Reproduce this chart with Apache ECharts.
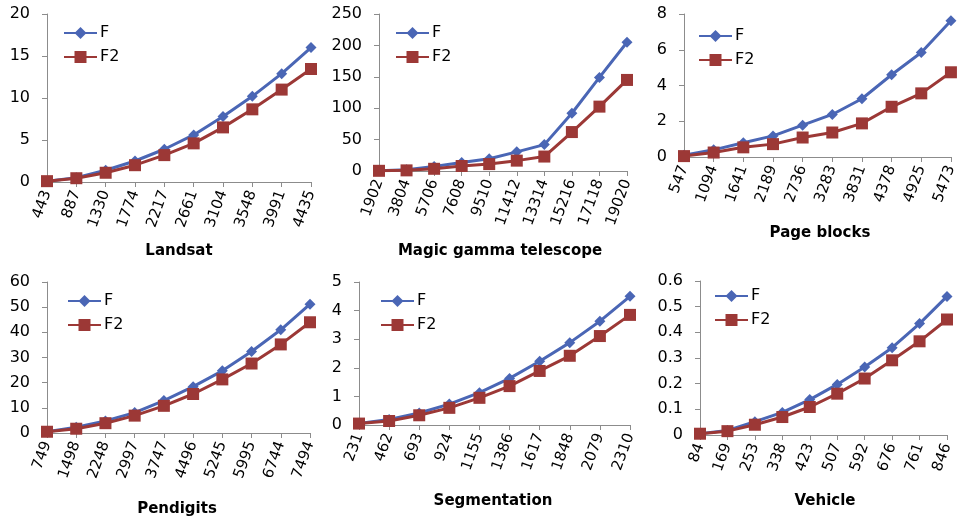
<!DOCTYPE html>
<html>
<head>
<meta charset="utf-8">
<script src="https://cdn.jsdelivr.net/npm/echarts@6/dist/echarts.min.js"></script>
<style>
  html, body { margin: 0; padding: 0; background: #fff; }
  #chart { width: 959px; height: 519px; }
</style>
</head>
<body>
<div id="chart"></div>
<script>
// Dataset sizes (x categories) and timings for the two methods, per dataset
const landsatX = ['443','887','1330','1774','2217','2661','3104','3548','3991','4435'];
const landsatF = [0.1, 0.5, 1.4, 2.5, 3.9, 5.6, 7.8, 10.2, 12.9, 16.0];
const landsatF2 = [0.1, 0.45, 1.1, 2.0, 3.2, 4.6, 6.5, 8.65, 11.0, 13.45];

const magicX = ['1902','3804','5706','7608','9510','11412','13314','15216','17118','19020'];
const magicF = [0.5, 2, 7, 13.5, 19.5, 30.5, 42, 92, 149, 205];
const magicF2 = [0.3, 1, 3.5, 8, 11, 16.5, 23, 62, 102.5, 145];

const pageX = ['547','1094','1641','2189','2736','3283','3831','4378','4925','5473'];
const pageF = [0.1, 0.4, 0.8, 1.18, 1.78, 2.38, 3.26, 4.6, 5.85, 7.62];
const pageF2 = [0.05, 0.25, 0.54, 0.72, 1.09, 1.37, 1.88, 2.81, 3.56, 4.74];

const pendX = ['749','1498','2248','2997','3747','4496','5245','5995','6744','7494'];
const pendF = [0.5, 2.3, 4.8, 8.1, 12.9, 18.4, 24.7, 32.4, 41, 51.2];
const pendF2 = [0.5, 1.7, 3.9, 6.9, 10.8, 15.5, 21.3, 27.6, 35.2, 44];

const segX = ['231','462','693','924','1155','1386','1617','1848','2079','2310'];
const segF = [0.05, 0.19, 0.42, 0.73, 1.13, 1.63, 2.23, 2.88, 3.63, 4.5];
const segF2 = [0.05, 0.14, 0.34, 0.6, 0.95, 1.36, 1.89, 2.42, 3.11, 3.85];

const vehX = ['84','169','253','338','423','507','592','676','761','846'];
const vehF = [0.005, 0.018, 0.052, 0.088, 0.138, 0.197, 0.265, 0.34, 0.434, 0.54];
const vehF2 = [0.005, 0.015, 0.04, 0.07, 0.109, 0.161, 0.22, 0.291, 0.365, 0.45];

const names = ['Landsat', 'Magic gamma telescope', 'Page blocks', 'Pendigits', 'Segmentation', 'Vehicle'];
const yMax = [20, 250, 8, 60, 5, 0.6];
const yStep = [5, 50, 2, 10, 1, 0.1];

const panels = [
  { x: landsatX, f: landsatF, f2: landsatF2 },
  { x: magicX, f: magicF, f2: magicF2 },
  { x: pageX, f: pageF, f2: pageF2 },
  { x: pendX, f: pendF, f2: pendF2 },
  { x: segX, f: segF, f2: segF2 },
  { x: vehX, f: vehF, f2: vehF2 }
];

// Layout of each small chart: plot box, legend anchor, title anchor
const layout = [
  { l: 47,  t: 14,  w: 264, h: 168, lg: [63, 25],  tt: [179, 244] },
  { l: 379, t: 14,  w: 248, h: 157, lg: [395, 25], tt: [500, 244] },
  { l: 684, t: 14,  w: 271, h: 143, lg: [698, 28], tt: [820, 226] },
  { l: 47,  t: 282, w: 263, h: 151, lg: [67, 293], tt: [177, 502] },
  { l: 359, t: 282, w: 271, h: 143, lg: [380, 293], tt: [493, 494] },
  { l: 700, t: 281, w: 247, h: 154, lg: [714, 288], tt: [825, 494] }
];

const FONT = '"DejaVu Sans", sans-serif';
const BLUE = '#4a66b5';
const RED = '#9c3836';
const AXIS = '#8c8c8c';

const grid = [], xAxis = [], yAxis = [], series = [], legend = [], title = [];

panels.forEach((p, i) => {
  const L = layout[i];
  grid.push({ left: L.l, top: L.t, width: L.w, height: L.h, containLabel: false });
  xAxis.push({
    type: 'category', gridIndex: i, data: p.x, boundaryGap: false,
    axisLine: { lineStyle: { color: AXIS, width: 1 } },
    axisTick: { show: true, alignWithLabel: true, length: 5, lineStyle: { color: AXIS } },
    axisLabel: { rotate: 70, color: '#000', fontFamily: FONT, fontSize: 15, margin: 9, interval: 0 },
    splitLine: { show: false }
  });
  yAxis.push({
    type: 'value', gridIndex: i, min: 0, max: yMax[i], interval: yStep[i],
    axisLine: { show: true, lineStyle: { color: AXIS, width: 1 } },
    axisTick: { show: true, length: 5, lineStyle: { color: AXIS } },
    axisLabel: { color: '#000', fontFamily: FONT, fontSize: 16, margin: 17 },
    splitLine: { show: false }
  });
  series.push({
    name: 'F', type: 'line', xAxisIndex: i, yAxisIndex: i, data: p.f,
    symbol: 'diamond', symbolSize: 11, showAllSymbol: true,
    lineStyle: { color: BLUE, width: 3 }, itemStyle: { color: BLUE },
    z: 3, animation: false
  });
  series.push({
    name: 'F2', type: 'line', xAxisIndex: i, yAxisIndex: i, data: p.f2,
    symbol: 'rect', symbolSize: 12, showAllSymbol: true,
    lineStyle: { color: RED, width: 3 }, itemStyle: { color: RED },
    z: 4, animation: false
  });
  legend.push({
    data: ['F', 'F2'], orient: 'vertical', left: L.lg[0], top: L.lg[1],
    padding: 0, itemWidth: 33, itemHeight: 15, itemGap: 8,
    textStyle: { fontFamily: FONT, fontSize: 16, color: '#000', padding: [0, 0, 0, -2] },
    selectedMode: false
  });
  title.push({
    text: names[i], left: L.tt[0], top: L.tt[1], textAlign: 'center', padding: 0,
    textStyle: { fontFamily: FONT, fontSize: 15, fontWeight: 'bold', color: '#000' }
  });
});

const chart = echarts.init(document.getElementById('chart'), null, { renderer: 'canvas' });
chart.setOption({
  animation: false,
  backgroundColor: '#fff',
  title, grid, xAxis, yAxis, series, legend
});
</script>
</body>
</html>
